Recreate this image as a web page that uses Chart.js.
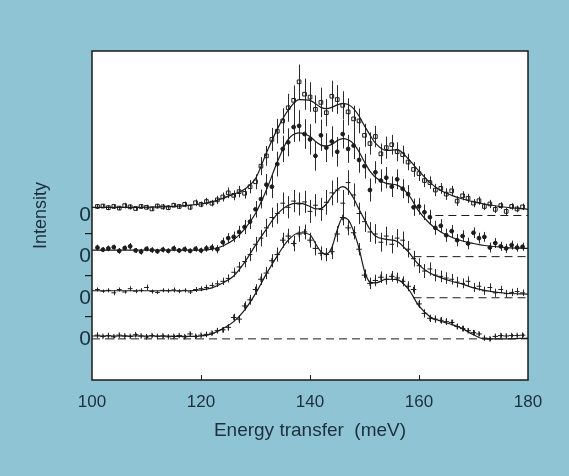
<!DOCTYPE html>
<html>
<head>
<meta charset="utf-8">
<script src="https://cdn.jsdelivr.net/npm/chart.js@4"></script>
<style>
  html, body { margin: 0; padding: 0; background: #8fc4d4; }
  #wrap { width: 569px; height: 476px; }
</style>
</head>
<body>
<div id="wrap"><canvas id="chart" width="569" height="476"></canvas></div>
<script>
// energies of the measured points (meV)
var pointE = [101,102,103,104,105,106,107,108,109,110,
              111,112,113,114,115,116,117,118,119,120,
              121,122,123,124,125,126,127,128,129,130,
              131,132,133,134,135,136,137,138,139,140,
              141,142,143,144,145,146,147,148,149,150,
              151,152,153,154,155,156,157,158,159,160,
              161,162,163,164,165,166,167,168,169,170,
              171,172,173,174,175,176,177,178,179];

// spectrum 1 (top, open squares)
var s1 = [4.22,4.23,4.19,4.22,4.18,4.24,4.21,4.17,4.22,4.20,
          4.16,4.23,4.21,4.19,4.25,4.22,4.27,4.20,4.31,4.27,
          4.34,4.30,4.38,4.45,4.55,4.49,4.58,4.54,4.70,4.82,
          5.20,5.45,5.85,6.05,6.30,6.62,6.80,7.25,6.95,6.88,
          6.58,6.75,6.50,6.90,6.82,6.68,6.52,6.35,6.30,5.95,
          5.75,5.92,5.50,5.65,5.72,5.55,5.48,5.30,5.12,5.02,
          4.85,4.80,4.62,4.66,4.52,4.60,4.35,4.48,4.42,4.30,
          4.36,4.22,4.28,4.15,4.24,4.10,4.22,4.16,4.21];
var s1Err = [0.06,0.05,0.06,0.06,0.05,0.07,0.06,0.05,0.06,0.06,
             0.05,0.06,0.07,0.06,0.05,0.06,0.07,0.06,0.08,0.07,
             0.09,0.08,0.10,0.11,0.13,0.12,0.14,0.13,0.16,0.18,
             0.22,0.24,0.28,0.30,0.31,0.34,0.36,0.42,0.38,0.36,
             0.34,0.36,0.33,0.38,0.35,0.34,0.33,0.32,0.30,0.28,
             0.27,0.26,0.25,0.27,0.24,0.23,0.22,0.20,0.18,0.18,
             0.16,0.15,0.15,0.13,0.14,0.12,0.12,0.11,0.11,0.10,
             0.10,0.09,0.10,0.09,0.08,0.09,0.08,0.08,0.08];

// spectrum 2 (filled dots)
var s2 = [3.22,3.17,3.20,3.23,3.14,3.21,3.25,3.15,3.12,3.19,
          3.16,3.13,3.17,3.14,3.20,3.15,3.18,3.14,3.19,3.15,
          3.20,3.22,3.18,3.35,3.45,3.48,3.60,3.72,3.85,4.15,
          4.40,4.75,4.70,5.25,5.62,5.78,6.15,6.18,5.98,5.85,
          5.45,5.95,5.65,5.80,5.55,5.98,5.62,5.70,5.35,5.20,
          4.62,5.05,4.85,4.92,4.70,4.88,4.65,4.52,4.20,4.22,
          4.08,3.96,3.70,3.75,3.52,3.62,3.40,3.50,3.32,3.58,
          3.45,3.48,3.22,3.33,3.25,3.20,3.28,3.22,3.24];
var s2Err = [0.07,0.06,0.07,0.06,0.07,0.06,0.08,0.06,0.07,0.06,
             0.07,0.06,0.07,0.06,0.07,0.06,0.07,0.06,0.07,0.07,
             0.08,0.09,0.10,0.11,0.12,0.13,0.15,0.17,0.18,0.20,
             0.23,0.26,0.28,0.30,0.32,0.34,0.36,0.38,0.36,0.37,
             0.36,0.38,0.35,0.37,0.36,0.35,0.34,0.33,0.31,0.30,
             0.28,0.27,0.27,0.26,0.25,0.24,0.23,0.22,0.21,0.20,
             0.19,0.18,0.17,0.16,0.16,0.15,0.15,0.14,0.14,0.13,
             0.13,0.12,0.12,0.12,0.11,0.11,0.11,0.10,0.10];

// spectrum 3 (dashes)
var s3 = [2.20,2.16,2.18,2.12,2.20,2.14,2.22,2.16,2.18,2.25,
          2.15,2.13,2.18,2.17,2.19,2.16,2.18,2.14,2.20,2.22,
          2.25,2.30,2.34,2.40,2.47,2.62,2.75,2.88,3.05,3.30,
          3.45,3.70,3.95,4.05,4.30,4.20,4.35,4.28,4.33,4.10,
          4.25,4.15,4.32,4.55,4.62,4.30,4.80,4.50,4.05,3.85,
          3.60,3.55,3.35,3.50,3.30,3.45,3.40,3.18,2.95,2.78,
          2.65,2.70,2.55,2.52,2.48,2.45,2.38,2.35,2.40,2.25,
          2.28,2.17,2.25,2.12,2.20,2.10,2.13,2.15,2.12];
var s3Err = [0.05,0.04,0.05,0.06,0.05,0.04,0.06,0.05,0.05,0.07,
             0.05,0.04,0.05,0.05,0.06,0.05,0.05,0.05,0.06,0.06,
             0.07,0.07,0.08,0.09,0.10,0.11,0.12,0.14,0.16,0.18,
             0.20,0.22,0.24,0.25,0.26,0.27,0.27,0.28,0.27,0.28,
             0.27,0.28,0.30,0.30,0.31,0.32,0.30,0.28,0.26,0.25,
             0.24,0.24,0.23,0.23,0.22,0.22,0.21,0.20,0.19,0.18,
             0.17,0.16,0.15,0.14,0.14,0.13,0.13,0.12,0.12,0.11,
             0.11,0.10,0.10,0.10,0.09,0.09,0.09,0.09,0.08];

// spectrum 4 (bottom, plus signs)
var s4 = [1.09,1.06,1.08,1.05,1.09,1.07,1.06,1.10,1.07,1.05,
          1.08,1.06,1.07,1.05,1.06,1.08,1.05,1.12,1.06,1.09,
          1.11,1.14,1.20,1.22,1.28,1.52,1.48,1.80,1.95,2.20,
          2.45,2.60,2.90,3.05,3.40,3.50,3.32,3.55,3.60,3.40,
          3.20,3.08,3.05,3.12,3.55,3.95,3.70,3.58,3.18,2.55,
          2.35,2.42,2.50,2.45,2.52,2.48,2.40,2.28,2.20,1.85,
          1.62,1.50,1.48,1.45,1.42,1.40,1.30,1.25,1.20,1.15,
          1.12,1.02,1.00,1.06,1.08,1.07,1.08,1.08,1.09];
var s4Err = [0.04,0.03,0.04,0.03,0.04,0.03,0.04,0.03,0.04,0.03,
             0.04,0.03,0.04,0.03,0.04,0.03,0.04,0.04,0.04,0.04,
             0.05,0.05,0.06,0.07,0.08,0.09,0.10,0.11,0.12,0.13,
             0.14,0.15,0.16,0.17,0.18,0.18,0.19,0.19,0.18,0.18,
             0.17,0.17,0.16,0.18,0.19,0.19,0.18,0.16,0.15,0.14,
             0.14,0.14,0.14,0.13,0.13,0.13,0.12,0.12,0.11,0.10,
             0.10,0.09,0.09,0.08,0.08,0.07,0.07,0.07,0.06,0.06,
             0.05,0.05,0.05,0.05,0.05,0.04,0.04,0.04,0.04];

// fitted curves
var fitE = [100,104,108,112,116,118,120,122,124,126,128,130,132,134,136,138,140,
            141,142,143,144,145,146,147,148,149,150,151,152,
            154,156,158,160,162,164,166,168,170,172,176,180];
var fit1 = [4.20,4.20,4.20,4.21,4.23,4.25,4.28,4.33,4.42,4.52,4.64,4.90,5.52,6.10,6.56,6.82,6.80,
            6.72,6.63,6.60,6.63,6.69,6.72,6.70,6.60,6.42,6.18,5.96,5.76,
            5.58,5.60,5.38,5.08,4.80,4.61,4.49,4.40,4.33,4.28,4.20,4.15];
var fit2 = [3.16,3.16,3.16,3.16,3.16,3.16,3.16,3.18,3.26,3.41,3.67,4.05,4.62,5.30,5.85,6.01,5.92,
            5.80,5.71,5.69,5.73,5.82,5.87,5.84,5.74,5.55,5.30,5.08,4.93,
            4.78,4.74,4.52,4.10,3.80,3.60,3.47,3.38,3.32,3.27,3.22,3.20];
var fit3 = [2.17,2.17,2.17,2.17,2.17,2.17,2.19,2.24,2.36,2.53,2.86,3.28,3.67,4.04,4.25,4.30,4.22,
            4.16,4.17,4.28,4.47,4.63,4.70,4.62,4.42,4.15,3.90,3.66,3.50,
            3.42,3.37,3.12,2.80,2.60,2.49,2.40,2.33,2.24,2.18,2.11,2.09];
var fit4 = [1.07,1.07,1.07,1.07,1.06,1.06,1.07,1.12,1.25,1.42,1.70,2.10,2.58,3.02,3.40,3.58,3.53,
            3.32,3.12,3.06,3.22,3.65,3.95,3.90,3.62,3.20,2.65,2.38,2.36,
            2.45,2.44,2.22,1.80,1.54,1.43,1.35,1.25,1.10,1.00,1.00,1.02];

// zero lines (dashed) and where they start
var baseY = [4, 3, 2, 1];
var baseStart = [163, 159, 159, 100];
var baseEnd = 180;

// y axis marks
var yTicks = [1, 1.55, 2, 2.55, 3, 3.55, 4];
var xTicks = [100, 120, 140, 160, 180];

var ink = '#1b1b1b';
var textCol = '#1b2f3c';
var font = '"Liberation Sans", Arial, sans-serif';

function pts(xs, ys) {
    return xs.map(function (x, i) { return {x: x, y: ys[i]}; });
}

var markerSets = [
    {label: 'S1', data: pts(pointE, s1), errs: s1Err, pointStyle: 'rect', pointRadius: 2.6,
     backgroundColor: 'rgba(255,255,255,0)', borderColor: ink, borderWidth: 1},
    {label: 'S2', data: pts(pointE, s2), errs: s2Err, pointStyle: 'circle', pointRadius: 1.9,
     backgroundColor: ink, borderColor: ink, borderWidth: 1},
    {label: 'S3', data: pts(pointE, s3), errs: s3Err, pointStyle: 'line', pointRadius: 2.4,
     backgroundColor: ink, borderColor: ink, borderWidth: 1},
    {label: 'S4', data: pts(pointE, s4), errs: s4Err, pointStyle: 'cross', pointRadius: 2.8,
     backgroundColor: ink, borderColor: ink, borderWidth: 1}
];
markerSets.forEach(function (d) { d.showLine = false; d.pointHoverRadius = d.pointRadius; });

var fitSets = [fit1, fit2, fit3, fit4].map(function (f, i) {
    return {label: 'fit' + (i + 1), data: pts(fitE, f), showLine: true, pointRadius: 0,
            borderColor: ink, borderWidth: 1.2, cubicInterpolationMode: 'monotone', fill: false};
});

var baseSets = baseY.map(function (b, i) {
    return {label: 'zero' + (i + 1), data: [{x: baseStart[i], y: b}, {x: baseEnd, y: b}],
            showLine: true, pointRadius: 0, borderColor: ink, borderWidth: 1,
            borderDash: [8, 5], fill: false};
});

// error bars drawn under the markers, from the scales
var errorBars = {
    id: 'errorBars',
    beforeDatasetsDraw: function (chart) {
        var ctx = chart.ctx, xs = chart.scales.x, ys = chart.scales.y;
        ctx.save();
        ctx.strokeStyle = '#2a2a2a';
        ctx.lineWidth = 1;
        chart.data.datasets.forEach(function (ds) {
            if (!ds.errs) return;
            ds.data.forEach(function (p, i) {
                var px = Math.round(xs.getPixelForValue(p.x)) + 0.5;
                ctx.beginPath();
                ctx.moveTo(px, ys.getPixelForValue(p.y - ds.errs[i]));
                ctx.lineTo(px, ys.getPixelForValue(p.y + ds.errs[i]));
                ctx.stroke();
            });
        });
        ctx.restore();
    }
};

// white plot panel, frame, inward ticks
var frame = {
    id: 'frame',
    beforeDraw: function (chart) {
        var a = chart.chartArea, ctx = chart.ctx;
        ctx.save();
        ctx.fillStyle = '#ffffff';
        ctx.fillRect(a.left, a.top, a.right - a.left, a.bottom - a.top);
        ctx.restore();
    },
    afterDraw: function (chart) {
        var a = chart.chartArea, ctx = chart.ctx, xs = chart.scales.x;
        ctx.save();
        ctx.strokeStyle = ink;
        ctx.lineWidth = 1.5;
        ctx.strokeRect(a.left, a.top, a.right - a.left, a.bottom - a.top);
        ctx.lineWidth = 1;
        [120, 140, 160].forEach(function (v) {
            var px = Math.round(xs.getPixelForValue(v)) + 0.5;
            ctx.beginPath();
            ctx.moveTo(px, a.bottom);
            ctx.lineTo(px, a.bottom - 5);
            ctx.stroke();
        });
        ctx.restore();
    }
};

new Chart(document.getElementById('chart'), {
    type: 'scatter',
    data: {datasets: markerSets.concat(fitSets, baseSets)},
    options: {
        responsive: false,
        animation: false,
        layout: {padding: {left: 26, top: 51, right: 41, bottom: 30}},
        plugins: {legend: {display: false}, tooltip: {enabled: false}},
        scales: {
            x: {
                type: 'linear', min: 100, max: 180,
                afterBuildTicks: function (s) { s.ticks = xTicks.map(function (v) { return {value: v}; }); },
                afterFit: function (s) { s.height = 66; },
                grid: {display: false},
                border: {display: false},
                ticks: {color: textCol, font: {family: font, size: 17}, padding: 4, maxRotation: 0},
                title: {display: true, text: 'Energy transfer  (meV)', color: textCol,
                        font: {family: font, size: 19}, padding: {top: 4, bottom: 4}}
            },
            y: {
                type: 'linear', min: 0, max: 8,
                afterBuildTicks: function (s) { s.ticks = yTicks.map(function (v) { return {value: v}; }); },
                afterFit: function (s) { s.width = 66; },
                grid: {
                    drawOnChartArea: false, tickLength: 7, lineWidth: 1.2,
                    color: function (c) { return Number.isInteger(c.tick.value) ? 'rgba(0,0,0,0)' : ink; }
                },
                border: {display: false},
                ticks: {
                    color: textCol, font: {family: font, size: 21}, padding: -6,
                    callback: function (v) { return Number.isInteger(v) ? '0' : ''; }
                },
                title: {display: true, text: 'Intensity', color: textCol,
                        font: {family: font, size: 18}, padding: {top: 4, bottom: 4}}
            }
        }
    },
    plugins: [errorBars, frame]
});
</script>
</body>
</html>
